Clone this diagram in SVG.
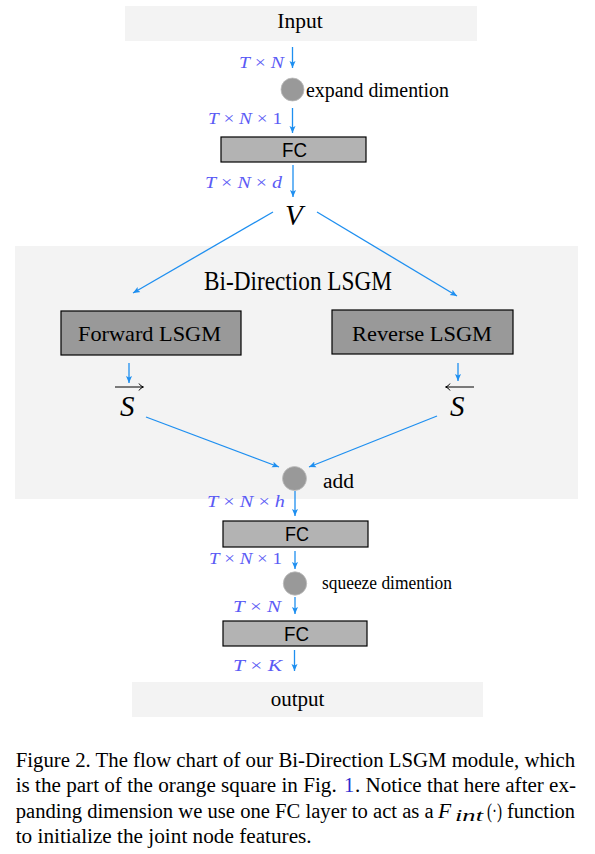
<svg xmlns="http://www.w3.org/2000/svg" width="595" height="854" viewBox="0 0 595 854">
<style>
.serif{font-family:"Liberation Serif","Times New Roman",serif;fill:#000}
.sans{font-family:"Liberation Sans",Arial,sans-serif;fill:#000}
.lbl{font-family:"Liberation Serif","Times New Roman",serif;font-size:17px;fill:#5b5bf5}
.it{font-style:italic}
.conn{stroke:#1e8ff0;stroke-width:1.3;fill:none}
.panel{fill:#f3f3f3}
.fc{fill:#b3b3b3;stroke:#000;stroke-width:1.2}
.lsgm{fill:#999999;stroke:#000;stroke-width:1.2}
.dot{fill:#999999;stroke:#bdbdbd;stroke-width:0.8}
.vec{stroke:#000;stroke-width:1;fill:none}
</style>
<defs>
<marker id="ah" markerUnits="userSpaceOnUse" markerWidth="8" markerHeight="8" viewBox="0 0 8 8" refX="7" refY="4" orient="auto">
<path d="M0,1 L7,4 L0,7 L1.5,4 Z" fill="#1e8ff0"/>
</marker>
</defs>

<rect class="panel" x="15" y="246" width="563" height="253"/>
<text class="serif" x="204" y="290" font-size="27" textLength="188" lengthAdjust="spacingAndGlyphs">Bi-Direction LSGM</text>

<g id="input">
<rect class="panel" x="125" y="6" width="352" height="35"/>
<text class="serif" x="300" y="28" font-size="21.5" text-anchor="middle">Input</text>
</g>

<g id="expand">
<circle class="dot" cx="292.5" cy="89.5" r="11.5"/>
<text class="serif" x="306" y="97" font-size="20" textLength="143" lengthAdjust="spacingAndGlyphs">expand dimention</text>
</g>

<g id="fc1">
<rect class="fc" x="221" y="137" width="145" height="25"/>
<text class="sans" x="282" y="157" font-size="20" textLength="25" lengthAdjust="spacingAndGlyphs">FC</text>
</g>

<g id="v">
<text class="serif it" x="285" y="225" font-size="29">V</text>
</g>

<g id="forward">
<rect class="lsgm" x="61" y="311" width="180" height="44"/>
<text class="serif" x="78" y="341" font-size="21.5" textLength="143" lengthAdjust="spacingAndGlyphs">Forward LSGM</text>
</g>

<g id="reverse">
<rect class="lsgm" x="332" y="310" width="181" height="44"/>
<text class="serif" x="352" y="341" font-size="21.5" textLength="140" lengthAdjust="spacingAndGlyphs">Reverse LSGM</text>
</g>

<g id="s-forward">
<text class="serif it" x="120" y="416" font-size="29">S</text>
<path class="vec" d="M115,387 H143 M139,383.5 Q140.5,386.3 143.5,387 Q140.5,387.7 139,390.5"/>
</g>

<g id="s-reverse">
<text class="serif it" x="450" y="416" font-size="29">S</text>
<path class="vec" d="M446,387 H474 M450,383.5 Q448.5,386.3 445.5,387 Q448.5,387.7 450,390.5"/>
</g>

<g id="add">
<circle class="dot" cx="294.5" cy="478.5" r="12"/>
<text class="serif" x="323" y="488" font-size="20" textLength="31" lengthAdjust="spacingAndGlyphs">add</text>
</g>

<g id="fc2">
<rect class="fc" x="223" y="521" width="145" height="26"/>
<text class="sans" x="285" y="541" font-size="20" textLength="24" lengthAdjust="spacingAndGlyphs">FC</text>
</g>

<g id="squeeze">
<circle class="dot" cx="295" cy="583.5" r="11.7"/>
<text class="serif" x="322" y="589" font-size="18.5" textLength="130" lengthAdjust="spacingAndGlyphs">squeeze dimention</text>
</g>

<g id="fc3">
<rect class="fc" x="223" y="621" width="144" height="25"/>
<text class="sans" x="284" y="641" font-size="20" textLength="25" lengthAdjust="spacingAndGlyphs">FC</text>
</g>

<g id="output">
<rect class="panel" x="132" y="682" width="351" height="35"/>
<text class="serif" x="297.5" y="706" font-size="21" text-anchor="middle">output</text>
</g>

<g id="connectors">
<line class="conn" x1="292.5" y1="47" x2="292.5" y2="68" marker-end="url(#ah)"/>
<line class="conn" x1="292.5" y1="108" x2="292.5" y2="133" marker-end="url(#ah)"/>
<line class="conn" x1="293" y1="165" x2="293" y2="197" marker-end="url(#ah)"/>
<line class="conn" x1="273" y1="212" x2="133" y2="293" marker-end="url(#ah)"/>
<line class="conn" x1="317" y1="212" x2="457" y2="296" marker-end="url(#ah)"/>
<line class="conn" x1="129" y1="363" x2="129" y2="383" marker-end="url(#ah)"/>
<line class="conn" x1="458" y1="363" x2="458" y2="381" marker-end="url(#ah)"/>
<line class="conn" x1="146" y1="417" x2="279" y2="467" marker-end="url(#ah)"/>
<line class="conn" x1="437" y1="416" x2="309" y2="467" marker-end="url(#ah)"/>
<line class="conn" x1="295" y1="491" x2="295" y2="516" marker-end="url(#ah)"/>
<line class="conn" x1="295" y1="551" x2="295" y2="569" marker-end="url(#ah)"/>
<line class="conn" x1="295" y1="597" x2="295" y2="614" marker-end="url(#ah)"/>
<line class="conn" x1="294.5" y1="650" x2="294.5" y2="671" marker-end="url(#ah)"/>
</g>

<g id="labels">
<text class="lbl" x="239" y="68" textLength="45" lengthAdjust="spacingAndGlyphs"><tspan class="it">T</tspan> × <tspan class="it">N</tspan></text>
<text class="lbl" x="208" y="124" textLength="74" lengthAdjust="spacingAndGlyphs"><tspan class="it">T</tspan> × <tspan class="it">N</tspan> × 1</text>
<text class="lbl" x="205" y="188" textLength="77" lengthAdjust="spacingAndGlyphs"><tspan class="it">T</tspan> × <tspan class="it">N</tspan> × <tspan class="it">d</tspan></text>
<text class="lbl" x="207" y="507" textLength="78" lengthAdjust="spacingAndGlyphs"><tspan class="it">T</tspan> × <tspan class="it">N</tspan> × <tspan class="it">h</tspan></text>
<text class="lbl" x="209" y="564" textLength="73" lengthAdjust="spacingAndGlyphs"><tspan class="it">T</tspan> × <tspan class="it">N</tspan> × 1</text>
<text class="lbl" x="233" y="612" textLength="48" lengthAdjust="spacingAndGlyphs"><tspan class="it">T</tspan> × <tspan class="it">N</tspan></text>
<text class="lbl" x="233" y="671" textLength="49" lengthAdjust="spacingAndGlyphs"><tspan class="it">T</tspan> × <tspan class="it">K</tspan></text>
</g>

<g id="caption" font-size="20.5">
<text class="serif" x="15.7" y="767" textLength="559.5" lengthAdjust="spacingAndGlyphs">Figure 2. The flow chart of our Bi-Direction LSGM module, which</text>
<text class="serif" x="15.7" y="792.3" textLength="321" lengthAdjust="spacingAndGlyphs">is the part of the orange square in Fig.</text>
<text class="serif" x="344" y="792.3" style="fill:#2b2bd0">1</text>
<text class="serif" x="355" y="792.3" textLength="221" lengthAdjust="spacingAndGlyphs">. Notice that here after ex-</text>
<text class="serif" x="15.7" y="817.6" textLength="418" lengthAdjust="spacingAndGlyphs">panding dimension we use one FC layer to act as a</text>
<text class="serif it" x="438" y="817.6" font-size="21.5">F</text>
<text class="serif it" x="455" y="821" font-size="16" textLength="28" lengthAdjust="spacingAndGlyphs">int</text>
<text class="serif" x="487" y="817.6" textLength="15" lengthAdjust="spacingAndGlyphs">(·)</text>
<text class="serif" x="507" y="817.6" textLength="68" lengthAdjust="spacingAndGlyphs">function</text>
<text class="serif" x="15.7" y="843" textLength="296" lengthAdjust="spacingAndGlyphs">to initialize the joint node features.</text>
</g>
</svg>
